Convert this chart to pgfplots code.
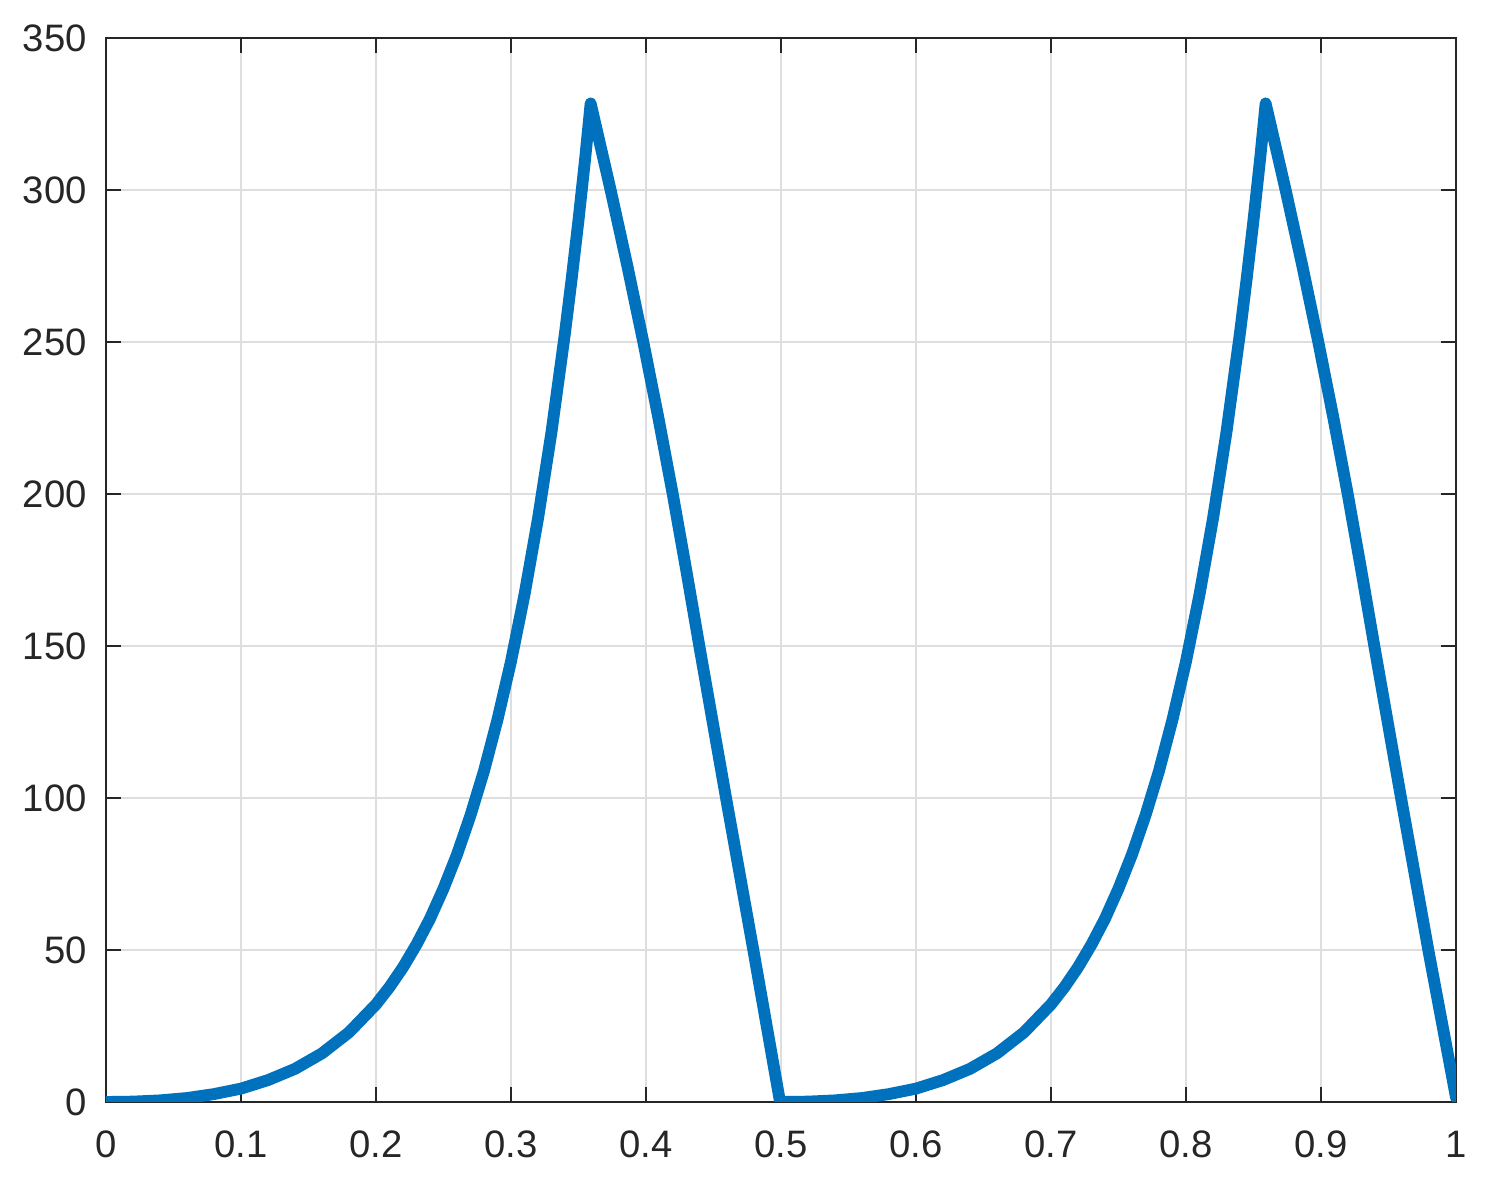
\documentclass[border=0pt]{standalone}
\usepackage{fontspec}
\setmainfont{Liberation Sans}
\usepackage{pgfplots}
\pgfplotsset{compat=1.18}
\definecolor{mlblue}{HTML}{0072BD}
\definecolor{axgray}{HTML}{262626}
\definecolor{gridgray}{HTML}{DEDEDE}

\begin{document}
\begin{tikzpicture}
\useasboundingbox (-1.0707,-0.9495) rectangle (13.929,11.131);
\begin{axis}[
  scale only axis,
  width=13.636cm, height=10.747cm,
  xmin=0, xmax=1, ymin=0, ymax=350,
  xtick={0,0.1,...,1.01},
  ytick={0,50,...,350},
  grid=major,
  major grid style={line width=0.75pt, gridgray},
  axis line style={line width=0.85pt, axgray},
  tick style={line width=0.8pt, axgray},
  tick align=inside,
  major tick length=0.15cm,
  xtick pos=both, ytick pos=both,
  tick label style={font=\fontsize{11}{13}\selectfont, text=axgray},
  /pgf/number format/assume math mode=true,
  xticklabel style={yshift=-0.17cm},
  yticklabel style={xshift=-0.07cm},
]
\addplot[mlblue, line width=3.4pt, line join=round, line cap=round]
  coordinates {
  (0.00,0) (0.02,0.12) (0.04,0.53) (0.06,1.3) (0.08,2.6) (0.10,4.4)
  (0.12,7.2) (0.14,10.9) (0.16,16.0) (0.18,22.9) (0.20,32.1) (0.21,37.8)
  (0.22,44.3) (0.23,51.8) (0.24,60.3) (0.25,70.2) (0.26,81.4) (0.27,94.3)
  (0.28,108.9) (0.29,125.8) (0.30,144.9) (0.31,166.9) (0.32,191.9)
  (0.33,220.4) (0.34,253.0) (0.345,271) (0.35,290.1) (0.355,310.6)
  (0.359,328.5)
  (0.3738,300) (0.3862,275) (0.3980,250) (0.4092,225) (0.4198,200)
  (0.4298,175) (0.4395,150) (0.4593,100) (0.4795,50) (0.4993,0)
  (0.52,0.12) (0.54,0.53) (0.56,1.3) (0.58,2.6) (0.60,4.4)
  (0.62,7.2) (0.64,10.9) (0.66,16.0) (0.68,22.9) (0.70,32.1) (0.71,37.8)
  (0.72,44.3) (0.73,51.8) (0.74,60.3) (0.75,70.2) (0.76,81.4) (0.77,94.3)
  (0.78,108.9) (0.79,125.8) (0.80,144.9) (0.81,166.9) (0.82,191.9)
  (0.83,220.4) (0.84,253.0) (0.845,271) (0.85,290.1) (0.855,310.6)
  (0.859,328.5)
  (0.8738,300) (0.8862,275) (0.8980,250) (0.9092,225) (0.9198,200)
  (0.9298,175) (0.9395,150) (0.9593,100) (0.9795,50) (1.0,1.5)
  };
\end{axis}
\end{tikzpicture}
\end{document}
